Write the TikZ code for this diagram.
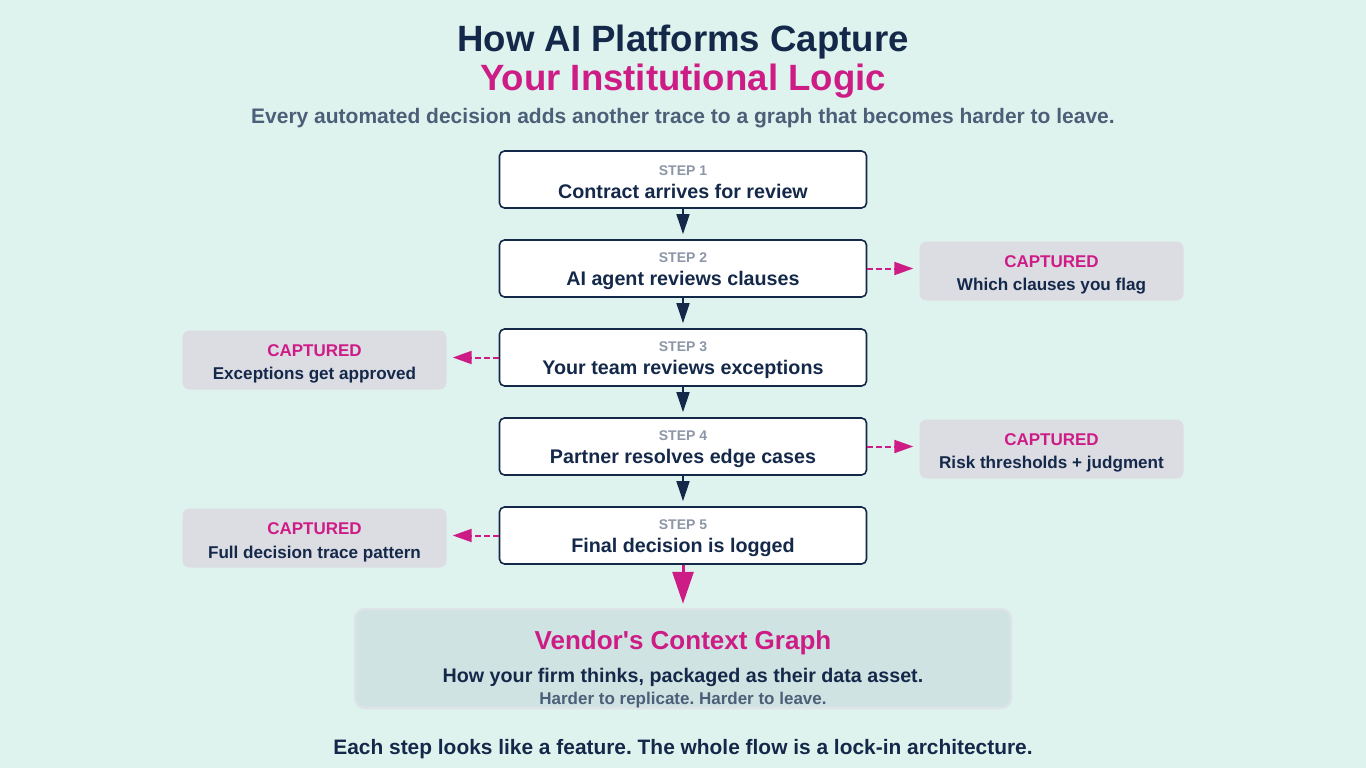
\documentclass[tikz,border=0pt]{standalone}
\usepackage{fontspec}
\setmainfont{Liberation Sans}[Ligatures=TeXOff]
\usepackage{xcolor}
\usepackage{tikz}
\usetikzlibrary{positioning,arrows.meta}
\definecolor{bgmint}{HTML}{DFF3EE}
\definecolor{navy}{HTML}{14294A}
\definecolor{lockmagenta}{HTML}{CE1C86}
\definecolor{steplabel}{HTML}{8C96A8}
\definecolor{capfill}{HTML}{DCDCE3}
\definecolor{graphfill}{HTML}{CFE3E2}
\definecolor{graphborder}{HTML}{DCE4E8}
\definecolor{subgray}{HTML}{4B6078}
\frenchspacing

\tikzset{
  stepnode/.style={draw=navy, fill=white, line width=1.6pt, rounded corners=5pt,
    minimum width=367pt, minimum height=57pt, align=center, inner sep=0pt},
  capnode/.style={fill=capfill, rounded corners=7pt, minimum width=264pt,
    minimum height=59pt, align=center, inner sep=0pt},
  flowarrow/.style={draw=navy, line width=1.5pt, shorten >=5pt, -{Triangle[length=20pt,width=13pt]}},
  capturearrow/.style={draw=lockmagenta, line width=2pt, dash pattern=on 6pt off 3pt,
    shorten >=6pt, -{Triangle[length=19pt,width=13pt]}},
}
\newcommand{\steptag}[1]{{\fontsize{14}{24}\selectfont\bfseries\color{steplabel}\rule{0pt}{15pt}#1}}
\newcommand{\steptext}[1]{{\fontsize{19.7}{24}\selectfont\bfseries\color{navy}#1}}
\newcommand{\captag}{{\fontsize{17}{24}\selectfont\bfseries\color{lockmagenta}\rule{0pt}{20pt}CAPTURED}}
\newcommand{\captext}[1]{{\fontsize{17.1}{24}\selectfont\bfseries\color{navy}#1}}

\begin{document}
\begin{tikzpicture}[x=1pt,y=-1pt]
  \fill[bgmint] (0,0) rectangle (1366,768);
  \useasboundingbox (0,0) rectangle (1366,768);

  \node[font=\fontsize{36.6}{40}\selectfont\bfseries, text=navy] (title) at (683,42) {How AI Platforms Capture};
  \node[font=\fontsize{36.6}{40}\selectfont\bfseries, text=lockmagenta] (title2) at (683,81) {Your Institutional Logic};
  \node[font=\fontsize{21}{24}\selectfont\bfseries, text=subgray] (sub) at (683,118)
    {Every automated decision adds another trace to a graph that becomes harder to leave.};

  \node[stepnode] (s1) at (683,179.5) {\steptag{STEP 1}\\[8pt]\steptext{Contract arrives for review}};
  \node[stepnode] (s2) at (683,268.5) {\steptag{STEP 2}\\[8pt]\steptext{AI agent reviews clauses}};
  \node[stepnode] (s3) at (683,357.5) {\steptag{STEP 3}\\[8pt]\steptext{Your team reviews exceptions}};
  \node[stepnode] (s4) at (683,446.5) {\steptag{STEP 4}\\[8pt]\steptext{Partner resolves edge cases}};
  \node[stepnode] (s5) at (683,535.5) {\steptag{STEP 5}\\[8pt]\steptext{Final decision is logged}};

  \node[capnode, right=52pt of s2, yshift=-2.5pt] (c2) {\captag\\[10pt]\captext{Which clauses you flag}};
  \node[capnode, left=52pt of s3, yshift=-2.5pt] (c3) {\captag\\[10pt]\captext{Exceptions get approved}};
  \node[capnode, right=52pt of s4, yshift=-2.5pt] (c4) {\captag\\[10pt]\captext{Risk thresholds + judgment}};
  \node[capnode, left=52pt of s5, yshift=-2.5pt] (c5) {\captag\\[10pt]\captext{Full decision trace pattern}};

  \draw[flowarrow] (s1) -- (s2);
  \draw[flowarrow] (s2) -- (s3);
  \draw[flowarrow] (s3) -- (s4);
  \draw[flowarrow] (s4) -- (s5);

  \draw[capturearrow] (s2.east) -- (c2.west |- s2.east);
  \draw[capturearrow] (s3.west) -- (c3.east |- s3.west);
  \draw[capturearrow] (s4.east) -- (c4.west |- s4.east);
  \draw[capturearrow] (s5.west) -- (c5.east |- s5.west);

  \node[fill=graphfill, draw=graphborder, line width=2.5pt, rounded corners=10pt,
    minimum width=656pt, minimum height=99pt, inner sep=0pt] (graph) at (683,658.5) {};
  \node[align=center, inner sep=0pt] (graphtext) at (683,669)
    {{\fontsize{26}{36}\selectfont\bfseries\color{lockmagenta}Vendor's Context Graph}\\[13pt]
     {\fontsize{19.7}{28}\selectfont\bfseries\color{navy}How your firm thinks, packaged as their data asset.}\\[4pt]
     {\fontsize{17}{22}\selectfont\bfseries\color{subgray}Harder to replicate. Harder to leave.}};
  \draw[draw=lockmagenta, line width=3pt, shorten >=4pt, -{Triangle[length=32pt,width=21pt]}] (s5) -- (graph);

  \node[font=\fontsize{20.9}{24}\selectfont\bfseries, text=navy] (footer) at (683,749)
    {Each step looks like a feature. The whole flow is a lock-in architecture.};
\end{tikzpicture}
\end{document}
